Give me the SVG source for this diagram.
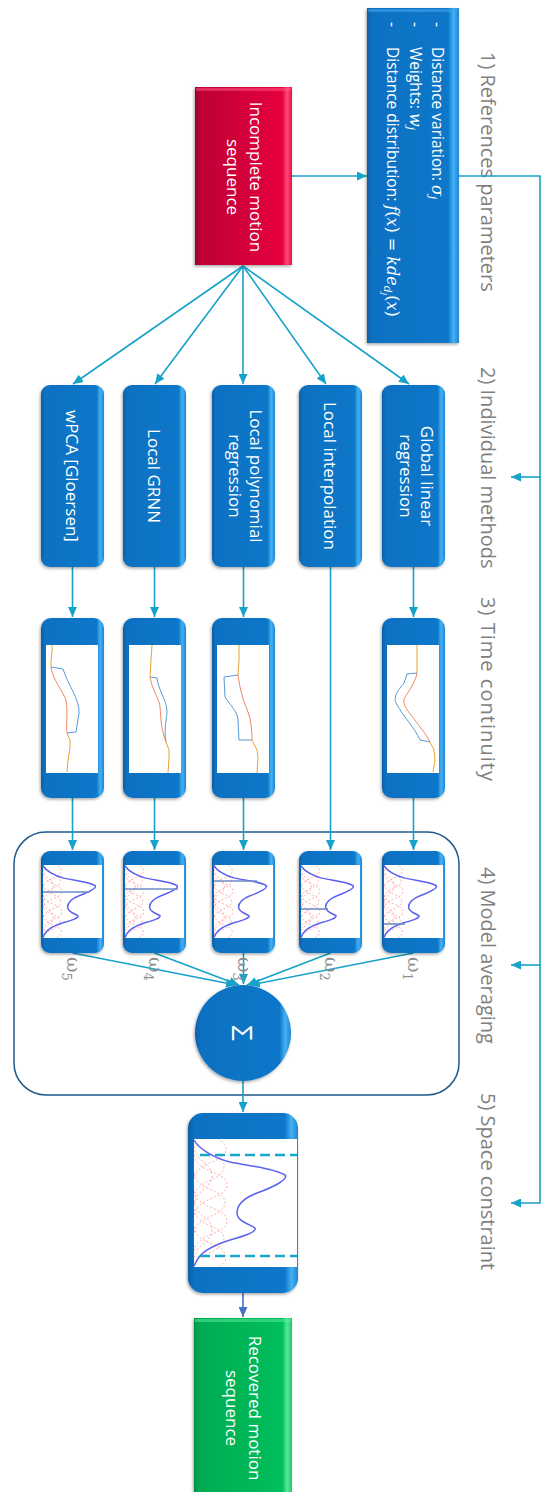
<svg xmlns="http://www.w3.org/2000/svg" xmlns:xlink="http://www.w3.org/1999/xlink" width="542" height="1492" viewBox="0 0 542 1492">
  <style>
    .conn { fill: none; stroke: #17A2C9; stroke-width: 1.6; }
    .conn-end { marker-end: url(#arrow); }
    .box { fill: url(#gBlue); filter: url(#shadow); }
    .img { fill: #ffffff; }
    .lbl { font-family: "Open Sans", "Liberation Sans", sans-serif; fill: #ffffff; font-size: 17px; }
    .sec { font-family: "Open Sans", "Liberation Sans", sans-serif; fill: #7f7f7f; font-size: 20px; }
    .bul { font-family: "Open Sans", "Liberation Sans", sans-serif; fill: #ffffff; font-size: 15.5px; }
    .math { font-family: "DejaVu Serif", "Liberation Serif", serif; font-style: italic; font-size: 16px; }
    .sub { font-family: "DejaVu Serif", "Liberation Serif", serif; font-style: italic; font-size: 11px; }
    .subsub { font-family: "DejaVu Serif", "Liberation Serif", serif; font-style: italic; font-size: 8px; }
    .par { font-family: "DejaVu Serif", "Liberation Serif", serif; font-size: 16px; }
    .w { font-family: "DejaVu Serif", "Liberation Serif", serif; fill: #8c8c8c; font-size: 19px; }
    .c-or { fill: none; stroke: #E5A435; stroke-width: 1; }
    .c-bl { fill: none; stroke: #5A9BD5; stroke-width: 1; }
    .c-rd { fill: none; stroke: #EE8560; stroke-width: 1; }
    .thr { stroke: #6E8CC8; stroke-width: 1.6; }
  </style>
  <defs>
    <linearGradient id="gBlue" x1="0" y1="0" x2="1" y2="0">
      <stop offset="0" stop-color="#085FA6"/>
      <stop offset="0.06" stop-color="#0A71C2"/>
      <stop offset="0.88" stop-color="#0B77C9"/>
      <stop offset="0.94" stop-color="#46B0F2"/>
      <stop offset="1" stop-color="#1C86D6"/>
    </linearGradient>
    <linearGradient id="gRed" x1="0" y1="0" x2="1" y2="0">
      <stop offset="0" stop-color="#A3002A"/>
      <stop offset="0.06" stop-color="#BE0036"/>
      <stop offset="0.9" stop-color="#E6003E"/>
      <stop offset="0.95" stop-color="#FF4A78"/>
      <stop offset="1" stop-color="#E0104A"/>
    </linearGradient>
    <linearGradient id="gGreen" x1="0" y1="0" x2="1" y2="0">
      <stop offset="0" stop-color="#009044"/>
      <stop offset="0.06" stop-color="#00AC52"/>
      <stop offset="0.9" stop-color="#00BE5C"/>
      <stop offset="0.95" stop-color="#55EA95"/>
      <stop offset="1" stop-color="#22C46E"/>
    </linearGradient>
    <filter id="shadow" x="-20%" y="-10%" width="140%" height="120%">
      <feDropShadow dx="-1" dy="1.5" stdDeviation="1.5" flood-color="#000000" flood-opacity="0.35"/>
    </filter>
    <marker id="arrow" viewBox="0 0 10 9" refX="10" refY="4.5" markerWidth="10" markerHeight="9" markerUnits="userSpaceOnUse" orient="auto">
      <path d="M0,0 L10,4.5 L0,9 z" fill="#17A2C9"/>
    </marker>
    <marker id="arrowBlue" viewBox="0 0 10 9" refX="10" refY="4.5" markerWidth="10" markerHeight="9" markerUnits="userSpaceOnUse" orient="auto">
      <path d="M0,0 L10,4.5 L0,9 z" fill="#4472C4"/>
    </marker>
    <clipPath id="kdeClip">
      <rect x="0" y="0" width="103" height="128"/>
    </clipPath>
    <!-- density plot: dashed kernel components and their blue sum, 103 x 128 local units -->
    <g id="kde">
      <g clip-path="url(#kdeClip)" fill="none" stroke="#FF6A6A" stroke-width="1" stroke-dasharray="2 2" stroke-opacity="0.55">
        <path d="M0,-20 C2,-2 32,-4 32,10 C32,24 2,22 0,40" vector-effect="non-scaling-stroke"/>
        <path d="M0,-2 C2,16 30,14 30,28 C30,42 2,40 0,58" vector-effect="non-scaling-stroke"/>
        <path d="M0,16 C2,34 33,32 33,46 C33,60 2,58 0,76" vector-effect="non-scaling-stroke"/>
        <path d="M0,34 C2,52 31,50 31,64 C31,78 2,76 0,94" vector-effect="non-scaling-stroke"/>
        <path d="M0,52 C2,70 33,68 33,82 C33,96 2,94 0,112" vector-effect="non-scaling-stroke"/>
        <path d="M0,70 C2,88 30,86 30,100 C30,114 2,112 0,130" vector-effect="non-scaling-stroke"/>
        <path d="M0,88 C2,106 32,104 32,118 C32,132 2,130 0,148" vector-effect="non-scaling-stroke"/>
        <path d="M0,7 C2,25 18,23 18,37 C18,51 2,49 0,67" vector-effect="non-scaling-stroke"/>
        <path d="M0,61 C2,79 18,77 18,91 C18,105 2,103 0,121" vector-effect="non-scaling-stroke"/>
      </g>
      <path d="M0,1 C5,10 20,19 36,23 C55,27 80,29 91,36 C95,40 80,48 63,54 C50,59 43,66 43,74 C43,82 55,85 61,89 C63,93 50,97 36,101 C20,106 8,112 3,121 L0,127" fill="none" stroke="#5B62F0" stroke-width="1.5" vector-effect="non-scaling-stroke"/>
    </g>
  </defs>

  <rect width="542" height="1492" fill="#ffffff"/>

  <!-- stage titles -->
  <g id="stage-labels">
    <text class="sec" transform="translate(481,52) rotate(90)">1) References parameters</text>
    <text class="sec" transform="translate(481,367) rotate(90)">2) Individual methods</text>
    <text class="sec" transform="translate(481,597) rotate(90)" textLength="184">3) Time continuity</text>
    <text class="sec" transform="translate(481,867) rotate(90)">4) Model averaging</text>
    <text class="sec" transform="translate(481,1093) rotate(90)">5) Space constraint</text>
  </g>

  <!-- model averaging frame -->
  <rect id="averaging-frame" x="14" y="832" width="445" height="263" rx="32" fill="none" stroke="#1F5A8A" stroke-width="1.5"/>

  <!-- connectors -->
  <g id="connectors">
    <path class="conn conn-end" d="M292,176 H367"/>
    <path class="conn conn-end" d="M459,176 H540 V1203 H511"/>
    <path class="conn conn-end" d="M540,477 H511"/>
    <path class="conn conn-end" d="M540,965 H511"/>

    <path class="conn conn-end" d="M243,266 L73,384"/>
    <path class="conn conn-end" d="M243,266 L155,384"/>
    <path class="conn conn-end" d="M243,266 L243,384"/>
    <path class="conn conn-end" d="M243,266 L326,384"/>
    <path class="conn conn-end" d="M243,266 L409,384"/>

    <path class="conn conn-end" d="M72.5,567 V617"/>
    <path class="conn conn-end" d="M154.5,567 V617"/>
    <path class="conn conn-end" d="M243.5,567 V617"/>
    <path class="conn conn-end" d="M413.5,567 V617"/>
    <path class="conn conn-end" d="M330.5,567 V850"/>

    <path class="conn conn-end" d="M72.5,798 V850"/>
    <path class="conn conn-end" d="M154.5,798 V850"/>
    <path class="conn conn-end" d="M243.5,798 V850"/>
    <path class="conn conn-end" d="M413.5,798 V850"/>

    <path class="conn conn-end" d="M72.5,953 L236,985"/>
    <path class="conn conn-end" d="M154.5,953 L239,985"/>
    <path class="conn conn-end" d="M243.5,953 L243.5,984"/>
    <path class="conn conn-end" d="M330.5,953 L247,985"/>
    <path class="conn conn-end" d="M413.5,953 L250,985"/>

    <path class="conn conn-end" d="M243,1081 V1112"/>
    <path d="M243,1293 V1317" fill="none" stroke="#4472C4" stroke-width="1.6" marker-end="url(#arrowBlue)"/>
  </g>

  <!-- reference parameters -->
  <g id="node-references">
    <rect x="367" y="8" width="92" height="335" fill="url(#gBlue)" filter="url(#shadow)"/>
    <rect x="368" y="9" width="90" height="3" fill="#3DA2E8" opacity="0.6"/>
    <text class="bul" transform="translate(432,22) rotate(90)">-</text>
    <text class="bul" transform="translate(410,22) rotate(90)">-</text>
    <text class="bul" transform="translate(387,22) rotate(90)">-</text>
    <text class="bul" transform="translate(432,47) rotate(90)">Distance variation: <tspan class="math">σ</tspan><tspan class="sub" dy="3">j</tspan></text>
    <text class="bul" transform="translate(410,47) rotate(90)">Weights: <tspan class="math">w</tspan><tspan class="sub" dy="3">j</tspan></text>
    <text class="bul" transform="translate(387,47) rotate(90)">Distance distribution: <tspan class="math">f</tspan><tspan class="par">(</tspan><tspan class="math">x</tspan><tspan class="par">) = </tspan><tspan class="math">kde</tspan><tspan class="sub" dy="3">d</tspan><tspan class="subsub" dy="2">j</tspan><tspan class="par" dy="-5">(</tspan><tspan class="math">x</tspan><tspan class="par">)</tspan></text>
  </g>

  <!-- input -->
  <g id="node-incomplete">
    <rect x="195" y="87" width="97" height="178" fill="url(#gRed)" filter="url(#shadow)"/>
    <rect x="196" y="88" width="95" height="3" fill="#FF5A84" opacity="0.5"/>
    <text class="lbl" text-anchor="middle" transform="translate(250,177) rotate(90)"><tspan x="0" dy="0">Incomplete motion</tspan><tspan x="0" dy="23">sequence</tspan></text>
  </g>

  <!-- individual methods -->
  <g id="node-wpca">
    <rect class="box" x="41" y="385" width="63" height="182" rx="9"/>
    <text class="lbl" text-anchor="middle" transform="translate(66,476) rotate(90)">wPCA [Gloersen]</text>
  </g>
  <g id="node-grnn">
    <rect class="box" x="123" y="385" width="63" height="182" rx="9"/>
    <text class="lbl" text-anchor="middle" transform="translate(148,476) rotate(90)">Local GRNN</text>
  </g>
  <g id="node-polynomial">
    <rect class="box" x="212" y="385" width="63" height="182" rx="9"/>
    <text class="lbl" text-anchor="middle" transform="translate(250,476) rotate(90)"><tspan x="0" dy="0">Local polynomial</tspan><tspan x="0" dy="21">regression</tspan></text>
  </g>
  <g id="node-interpolation">
    <rect class="box" x="299" y="385" width="63" height="182" rx="9"/>
    <text class="lbl" text-anchor="middle" transform="translate(324,476) rotate(90)">Local interpolation</text>
  </g>
  <g id="node-linear">
    <rect class="box" x="382" y="385" width="63" height="182" rx="9"/>
    <text class="lbl" text-anchor="middle" transform="translate(421,476) rotate(90)"><tspan x="0" dy="0">Global linear</tspan><tspan x="0" dy="21">regression</tspan></text>
  </g>

  <!-- time continuity -->
  <g id="node-time-wpca">
    <rect class="box" x="41" y="618" width="63" height="180" rx="10"/>
    <rect class="img" x="46" y="645" width="52" height="128"/>
    <path class="c-or" d="M52,645 L52,652 L51,660 L51,667"/>
    <path class="c-bl" d="M51,667 L63,669 C68,685 80,700 79,713 L76,732 L67,733"/>
    <path class="c-rd" d="M51,667 C53,680 62,690 66,700 C68,710 66,725 67,733"/>
    <path class="c-or" d="M67,733 L70,740 L70,748 L68,760 L67,772"/>
  </g>
  <g id="node-time-grnn">
    <rect class="box" x="123" y="618" width="63" height="180" rx="10"/>
    <rect class="img" x="129" y="645" width="52" height="128"/>
    <path class="c-or" d="M152,645 L151,660 L150,677"/>
    <path class="c-bl" d="M150,677 L157,678 C158,690 167,700 167,712 C166,722 164,730 166,742"/>
    <path class="c-rd" d="M150,677 C152,690 160,700 160,707 C161,718 161,730 166,742"/>
    <path class="c-or" d="M166,742 L169,750 L169,758 L168,773"/>
  </g>
  <g id="node-time-polynomial">
    <rect class="box" x="212" y="618" width="63" height="180" rx="10"/>
    <rect class="img" x="217" y="645" width="52" height="128"/>
    <path class="c-or" d="M239,645 L239,660 L238,675"/>
    <path class="c-bl" d="M238,675 L224,677 L225,697 C230,705 238,712 238,720 L239,740 L252,740"/>
    <path class="c-rd" d="M238,675 C240,690 243,700 248,712 C251,720 252,730 252,740"/>
    <path class="c-or" d="M252,740 L257,750 L258,758 L257,773"/>
  </g>
  <g id="node-time-linear">
    <rect class="box" x="382" y="618" width="63" height="180" rx="10"/>
    <rect class="img" x="387" y="645" width="52" height="128"/>
    <path class="c-or" d="M417,645 L417,660 L417,673"/>
    <path class="c-bl" d="M417,673 L407,674 L404,683 C398,690 393,697 396,703 C402,715 415,728 420,740 L430,742"/>
    <path class="c-rd" d="M417,673 C416,680 410,690 405,697 C400,705 412,715 420,727 C425,733 428,738 430,742"/>
    <path class="c-or" d="M430,742 L434,750 L435,760 L433,772"/>
  </g>

  <!-- weighted densities -->
  <g id="node-avg-5">
    <rect class="box" x="41" y="851" width="63" height="102" rx="9"/>
    <rect class="img" x="43" y="865" width="59" height="73"/>
    <use xlink:href="#kde" transform="translate(43,865) scale(0.573,0.57)"/>
    <line class="thr" x1="43" y1="892" x2="90" y2="892"/>
    <text class="w" transform="translate(67,957) rotate(90)">ω<tspan font-size="13" dy="5">5</tspan></text>
  </g>
  <g id="node-avg-4">
    <rect class="box" x="123" y="851" width="63" height="102" rx="9"/>
    <rect class="img" x="125" y="865" width="59" height="73"/>
    <use xlink:href="#kde" transform="translate(125,865) scale(0.573,0.57)"/>
    <line class="thr" x1="125" y1="889" x2="178" y2="889" stroke="#3F5FA8"/>
    <text class="w" transform="translate(149,957) rotate(90)">ω<tspan font-size="13" dy="5">4</tspan></text>
  </g>
  <g id="node-avg-3">
    <rect class="box" x="212" y="851" width="63" height="102" rx="9"/>
    <rect class="img" x="214" y="865" width="59" height="73"/>
    <use xlink:href="#kde" transform="translate(214,865) scale(0.573,0.57)"/>
    <line class="thr" x1="214" y1="881" x2="257" y2="881"/>
    <text class="w" transform="translate(238,957) rotate(90)">ω<tspan font-size="13" dy="5">3</tspan></text>
  </g>
  <g id="node-avg-2">
    <rect class="box" x="299" y="851" width="63" height="102" rx="9"/>
    <rect class="img" x="301" y="865" width="59" height="73"/>
    <use xlink:href="#kde" transform="translate(301,865) scale(0.573,0.57)"/>
    <line class="thr" x1="301" y1="909" x2="328" y2="909"/>
    <text class="w" transform="translate(325,957) rotate(90)">ω<tspan font-size="13" dy="5">2</tspan></text>
  </g>
  <g id="node-avg-1">
    <rect class="box" x="382" y="851" width="63" height="102" rx="9"/>
    <rect class="img" x="384" y="865" width="59" height="73"/>
    <use xlink:href="#kde" transform="translate(384,865) scale(0.573,0.57)"/>
    <line class="thr" x1="384" y1="924" x2="405" y2="924"/>
    <text class="w" transform="translate(408,957) rotate(90)">ω<tspan font-size="13" dy="5">1</tspan></text>
  </g>

  <!-- summation -->
  <g id="node-sum">
    <circle cx="243" cy="1033" r="48" fill="url(#gBlue)" filter="url(#shadow)"/>
    <text transform="translate(243,1033) rotate(90)" text-anchor="middle" dominant-baseline="central" font-family="Open Sans, Liberation Sans, sans-serif" font-size="28" fill="#ffffff">Σ</text>
  </g>

  <!-- space constraint -->
  <g id="node-space">
    <rect class="box" x="188" y="1113" width="110" height="180" rx="15"/>
    <rect class="img" x="194" y="1139" width="103" height="128"/>
    <use xlink:href="#kde" transform="translate(194,1139)"/>
    <line x1="200" y1="1155" x2="297" y2="1155" stroke="#17A7CB" stroke-width="2.5" stroke-dasharray="10 5"/>
    <line x1="200" y1="1256" x2="297" y2="1256" stroke="#17A7CB" stroke-width="2.5" stroke-dasharray="10 5"/>
  </g>

  <!-- output -->
  <g id="node-recovered">
    <rect x="194" y="1318" width="98" height="182" fill="url(#gGreen)" filter="url(#shadow)"/>
    <rect x="195" y="1319" width="96" height="3" fill="#5AF09C" opacity="0.5"/>
    <text class="lbl" text-anchor="middle" transform="translate(249,1408) rotate(90)"><tspan x="0" dy="0">Recovered motion</tspan><tspan x="0" dy="23">sequence</tspan></text>
  </g>
</svg>
